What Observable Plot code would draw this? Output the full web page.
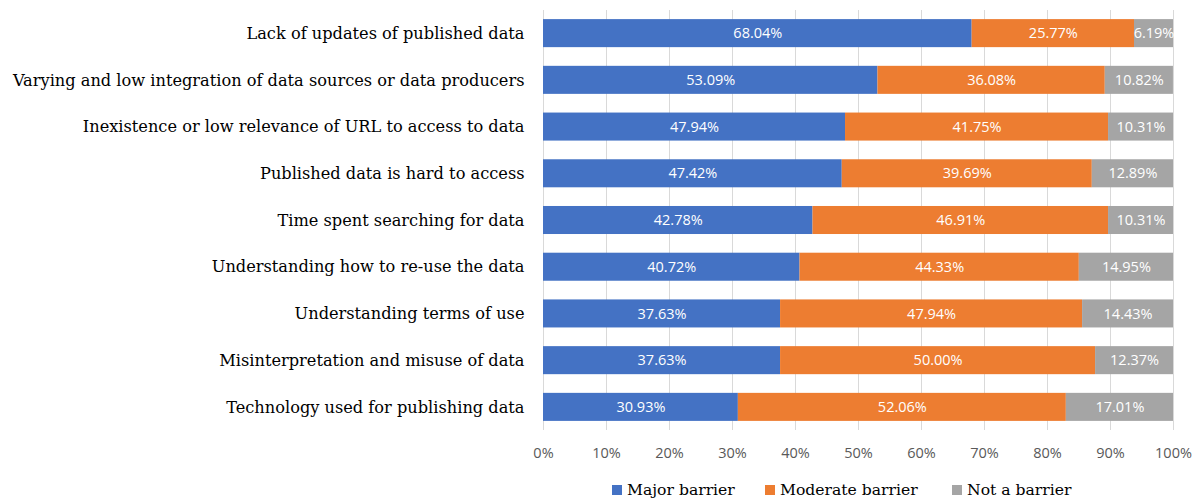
<!DOCTYPE html>
<html>
<head>
<meta charset="utf-8">
<script src="https://cdn.jsdelivr.net/npm/d3@7"></script>
<script src="https://cdn.jsdelivr.net/npm/@observablehq/plot@0.6"></script>
<style>
  body { margin: 0; background: #fff; }
  #legend { display: flex; justify-content: flex-start; height: 40px; align-items: center; font-family: "DejaVu Serif", serif; font-size: 15.6px; color: #000; padding-left: 612px; }
  #legend .item { display: flex; align-items: center; }
  #legend .item:nth-child(1) { width: 153px; }
  #legend .item:nth-child(2) { width: 187px; }
  #legend .sw { width: 10px; height: 10px; margin-right: 5px; display: inline-block; }
</style>
</head>
<body>
<div id="chart"></div>
<div id="legend"></div>
<script>
const categories = [
  "Lack of updates of published data",
  "Varying and low integration of data sources or data producers",
  "Inexistence or low relevance of URL to access to data",
  "Published data is hard to access",
  "Time spent searching for data",
  "Understanding how to re-use the data",
  "Understanding terms of use",
  "Misinterpretation and misuse of data",
  "Technology used for publishing data"
];
const seriesNames = ["Major barrier", "Moderate barrier", "Not a barrier"];
const majorBarrier    = [68.04, 53.09, 47.94, 47.42, 42.78, 40.72, 37.63, 37.63, 30.93];
const moderateBarrier = [25.77, 36.08, 41.75, 39.69, 46.91, 44.33, 47.94, 50.00, 52.06];
const notABarrier     = [6.19, 10.82, 10.31, 12.89, 10.31, 14.95, 14.43, 12.37, 17.01];
const colors = ["#4472C4", "#ED7D31", "#A5A5A5"];
const xTicks = [0, 10, 20, 30, 40, 50, 60, 70, 80, 90, 100];

const seriesValues = [majorBarrier, moderateBarrier, notABarrier];
const data = [];
seriesNames.forEach((s, si) => {
  categories.forEach((c, ci) => {
    data.push({category: c, series: s, value: seriesValues[si][ci]});
  });
});

const chart = Plot.plot({
  width: 1200,
  height: 470,
  marginLeft: 543,
  marginRight: 27,
  marginTop: 10,
  marginBottom: 40,
  x: {domain: [0, 100]},
  y: {domain: categories, paddingInner: 0.4, paddingOuter: 0.195, round: false},
  color: {domain: seriesNames, range: colors},
  marks: [
    Plot.gridX(xTicks, {stroke: "#d9d9d9", strokeOpacity: 1, strokeWidth: 1}),
    Plot.barX(data, Plot.stackX({x: "value", y: "category", fill: "series"})),
    Plot.textX(data, Plot.stackX({
      x: "value", y: "category", z: "series",
      text: d => d.value.toFixed(2) + "%",
      fill: "white", fontSize: 14.5, fontFamily: "Open Sans"
    })),
    Plot.axisY({tickSize: 0, tickPadding: 19, fontSize: 16.2, fontFamily: "DejaVu Serif", color: "#000", label: null}),
    Plot.axisX({ticks: xTicks, tickSize: 0, tickPadding: 17, fontSize: 14.5, fontFamily: "Open Sans", color: "#595959", tickFormat: d => d + "%", label: null})
  ]
});
document.getElementById("chart").appendChild(chart);

const legend = document.getElementById("legend");
seriesNames.forEach((s, i) => {
  const item = document.createElement("span");
  item.className = "item";
  const sw = document.createElement("span");
  sw.className = "sw";
  sw.style.background = colors[i];
  item.appendChild(sw);
  item.appendChild(document.createTextNode(s));
  legend.appendChild(item);
});
</script>
</body>
</html>
